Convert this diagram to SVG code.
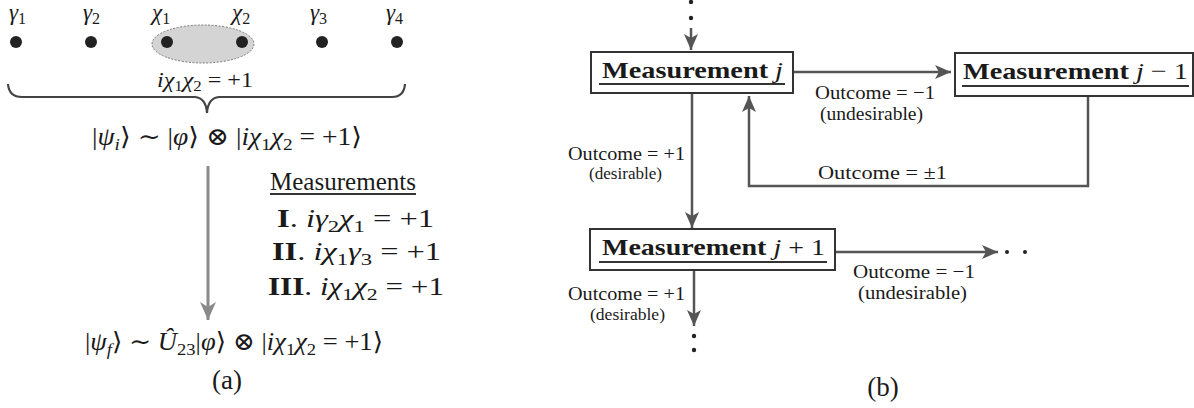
<svg xmlns="http://www.w3.org/2000/svg" width="1194" height="408" viewBox="0 0 1194 408">
<style>
text{font-family:"Liberation Serif","DejaVu Serif",serif;fill:#1a1a1a}
.m{font-style:italic}
.r{font-style:normal}
.b{font-weight:bold}
.sub{font-size:70%;font-style:normal}
.subi{font-size:70%;font-style:italic}
.lbl{font-size:19px}
.sm{font-size:16px}
.line{stroke:#555;stroke-width:2.5;fill:none}
.box{fill:#fff;stroke:#333;stroke-width:2}
.ul{stroke:#333;stroke-width:1.8}
.dot{fill:#222}
</style>
<defs>
<marker id="ah" markerUnits="userSpaceOnUse" markerWidth="16" markerHeight="14" refX="16" refY="7" orient="auto">
<path d="M0,0 L16,7 L0,14 L4,7 Z" fill="#555"/>
</marker>
<marker id="ahg" markerUnits="userSpaceOnUse" markerWidth="18" markerHeight="16" refX="18" refY="8" orient="auto">
<path d="M0,0 L18,8 L0,16 L5,8 Z" fill="#8a8a8a"/>
</marker>
</defs>

<!-- Panel (a) -->
<g id="panel-a">
<g id="majoranas">
<ellipse cx="203" cy="44" rx="51" ry="19" fill="#d4d4d4" stroke="#777" stroke-width="1" stroke-dasharray="2,1.5"/>
<circle class="dot" cx="16" cy="42" r="6"/>
<circle class="dot" cx="91" cy="42" r="6"/>
<circle class="dot" cx="167" cy="42" r="6"/>
<circle class="dot" cx="242" cy="42" r="6"/>
<circle class="dot" cx="322" cy="42" r="6"/>
<circle class="dot" cx="397" cy="42" r="6"/>
<text class="m" x="9" y="20" font-size="23">γ<tspan class="sub" dy="4">1</tspan></text>
<text class="m" x="83" y="20" font-size="23">γ<tspan class="sub" dy="4">2</tspan></text>
<text class="m" x="152" y="20" font-size="23">χ<tspan class="sub" dy="4">1</tspan></text>
<text class="m" x="232" y="20" font-size="23">χ<tspan class="sub" dy="4">2</tspan></text>
<text class="m" x="310" y="20" font-size="23">γ<tspan class="sub" dy="4">3</tspan></text>
<text class="m" x="386" y="20" font-size="23">γ<tspan class="sub" dy="4">4</tspan></text>
<text class="m" x="157" y="87" font-size="22" textLength="96" lengthAdjust="spacingAndGlyphs">iχ<tspan class="sub" dy="4">1</tspan><tspan dy="-4">χ</tspan><tspan class="sub" dy="4">2</tspan><tspan class="r" dy="-4"> = +1</tspan></text>
<path d="M8,84 Q9,97 22,97 L195,97 Q206,98 207,113 Q208,98 219,97 L392,97 Q404,97 405,84" fill="none" stroke="#444" stroke-width="2.2"/>
</g>
<g id="psi-i">
<text class="m" x="92" y="145" font-size="25" textLength="270" lengthAdjust="spacingAndGlyphs"><tspan class="r">|</tspan>ψ<tspan class="subi" dy="5">i</tspan><tspan class="r" dy="-5">⟩ ∼ |</tspan>φ<tspan class="r">⟩ ⊗ |</tspan>iχ<tspan class="sub" dy="5">1</tspan><tspan dy="-5">χ</tspan><tspan class="sub" dy="5">2</tspan><tspan class="r" dy="-5"> = +1⟩</tspan></text>
</g>
<g id="evolution-arrow">
<line x1="208" y1="166" x2="208" y2="320" stroke="#8a8a8a" stroke-width="3" marker-end="url(#ahg)"/>
</g>
<g id="measurements">
<text x="270" y="190" font-size="25" textLength="146" lengthAdjust="spacingAndGlyphs">Measurements</text>
<line class="ul" x1="270" y1="194" x2="416" y2="194"/>
<text x="277" y="227" font-size="25" textLength="157" lengthAdjust="spacingAndGlyphs"><tspan class="b">I</tspan>.  <tspan class="m">iγ</tspan><tspan class="sub" dy="5">2</tspan><tspan class="m" dy="-5">χ</tspan><tspan class="sub" dy="5">1</tspan><tspan dy="-5"> = +1</tspan></text>
<text x="272" y="260" font-size="25" textLength="169" lengthAdjust="spacingAndGlyphs"><tspan class="b">II</tspan>.  <tspan class="m">iχ</tspan><tspan class="sub" dy="5">1</tspan><tspan class="m" dy="-5">γ</tspan><tspan class="sub" dy="5">3</tspan><tspan dy="-5"> = +1</tspan></text>
<text x="268" y="295" font-size="25" textLength="176" lengthAdjust="spacingAndGlyphs"><tspan class="b">III</tspan>.  <tspan class="m">iχ</tspan><tspan class="sub" dy="5">1</tspan><tspan class="m" dy="-5">χ</tspan><tspan class="sub" dy="5">2</tspan><tspan dy="-5"> = +1</tspan></text>
</g>
<g id="psi-f">
<text class="m" x="85" y="350" font-size="25" textLength="298" lengthAdjust="spacingAndGlyphs"><tspan class="r">|</tspan>ψ<tspan class="subi" dy="5">f</tspan><tspan class="r" dy="-5">⟩ ∼ </tspan>Û<tspan class="sub" dy="5">23</tspan><tspan class="r" dy="-5">|</tspan>φ<tspan class="r">⟩ ⊗ |</tspan>iχ<tspan class="sub" dy="5">1</tspan><tspan dy="-5">χ</tspan><tspan class="sub" dy="5">2</tspan><tspan class="r" dy="-5"> = +1⟩</tspan></text>
</g>
<text x="227" y="389" font-size="27" text-anchor="middle">(a)</text>
</g>

<!-- Panel (b) -->
<g id="connectors">
<circle class="dot" cx="691" cy="2" r="2.2"/>
<circle class="dot" cx="691" cy="18" r="2.2"/>
<line class="line" x1="691" y1="28" x2="691" y2="50" marker-end="url(#ah)"/>
<line class="line" x1="793" y1="72" x2="951" y2="72" marker-end="url(#ah)"/>
<polyline class="line" points="1088,96 1088,186 749,186 749,96" marker-end="url(#ah)"/>
<line class="line" x1="692" y1="93" x2="692" y2="228" marker-end="url(#ah)"/>
<line class="line" x1="835" y1="252" x2="998" y2="252" marker-end="url(#ah)"/>
<circle class="dot" cx="1007" cy="252" r="2"/>
<circle class="dot" cx="1025" cy="252" r="2"/>
<line class="line" x1="694" y1="270" x2="694" y2="326" marker-end="url(#ah)"/>
<circle class="dot" cx="694" cy="336" r="2.2"/>
<circle class="dot" cx="694" cy="350" r="2.2"/>
<text class="lbl" x="815" y="99" textLength="120" lengthAdjust="spacingAndGlyphs">Outcome = −1</text>
<text class="lbl" x="820" y="120" textLength="103" lengthAdjust="spacingAndGlyphs">(undesirable)</text>
<text class="lbl" x="818" y="179" textLength="129" lengthAdjust="spacingAndGlyphs">Outcome = ±1</text>
<text class="lbl" x="568" y="160" textLength="117" lengthAdjust="spacingAndGlyphs">Outcome = +1</text>
<text class="sm" x="589" y="179" textLength="73" lengthAdjust="spacingAndGlyphs">(desirable)</text>
<text class="lbl" x="853" y="278" textLength="122" lengthAdjust="spacingAndGlyphs">Outcome = −1</text>
<text class="lbl" x="858" y="299" textLength="109" lengthAdjust="spacingAndGlyphs">(undesirable)</text>
<text class="lbl" x="568" y="300" textLength="117" lengthAdjust="spacingAndGlyphs">Outcome = +1</text>
<text class="sm" x="590" y="320" textLength="75" lengthAdjust="spacingAndGlyphs">(desirable)</text>
</g>
<g id="node-j">
<rect class="box" x="591" y="52" width="202" height="41"/>
<text x="602" y="78" font-size="24" textLength="181" lengthAdjust="spacingAndGlyphs"><tspan class="b">Measurement </tspan><tspan class="m"> j</tspan></text>
<line class="ul" x1="599" y1="84" x2="785" y2="84"/>
</g>
<g id="node-j-minus-1">
<rect class="box" x="955" y="53" width="238" height="43"/>
<text x="963" y="79" font-size="24" textLength="225" lengthAdjust="spacingAndGlyphs"><tspan class="b">Measurement </tspan><tspan class="m"> j</tspan> − 1</text>
<line class="ul" x1="962" y1="86" x2="1189" y2="86"/>
</g>
<g id="node-j-plus-1">
<rect class="box" x="590" y="229" width="245" height="41"/>
<text x="602" y="255" font-size="24" textLength="223" lengthAdjust="spacingAndGlyphs"><tspan class="b">Measurement </tspan><tspan class="m"> j</tspan> + 1</text>
<line class="ul" x1="599" y1="262" x2="827" y2="262"/>
</g>
<text x="883" y="396" font-size="27" text-anchor="middle">(b)</text>
</svg>
